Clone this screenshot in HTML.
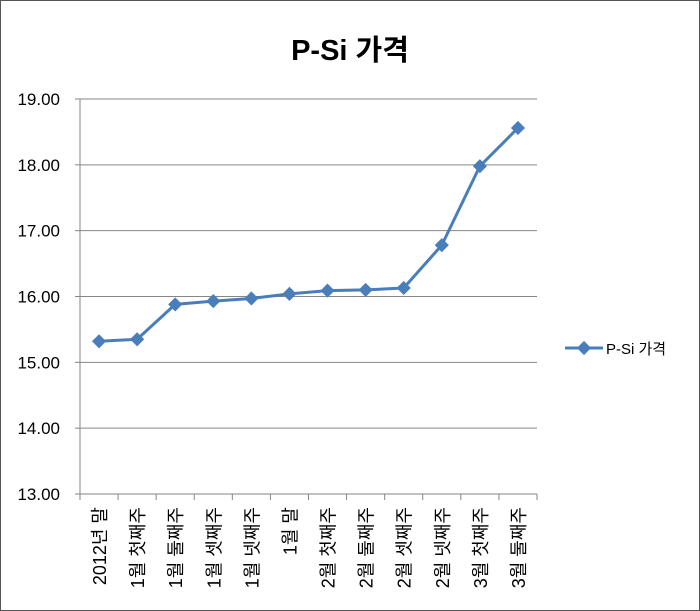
<!DOCTYPE html>
<html><head><meta charset="utf-8"><style>
body{margin:0;background:#fff;}
svg{display:block;font-family:"Liberation Sans","Noto Sans CJK KR",sans-serif;}
</style></head><body>
<svg id="chart" width="700" height="611">
<rect x="0.5" y="0.5" width="699" height="610" fill="#fff" stroke="#555"/>
<text x="350" y="60" text-anchor="middle" font-size="29" font-weight="bold" fill="#000">P-Si 가격</text>
<g id="grid"></g><g id="axes"></g><g id="series"></g>
<g>
<line x1="565" y1="348" x2="603" y2="348" stroke="#4a7ebb" stroke-width="3"/>
<rect x="579" y="343" width="10" height="10" fill="#4a7ebb" transform="rotate(45 584 348)"/>
<text x="606" y="354" font-size="15" fill="#000">P-Si 가격</text>
</g>
</svg>
<script>
const categories=["2012년 말","1월 첫째주","1월 둘째주","1월 셋째주","1월 넷째주","1월 말","2월 첫째주","2월 둘째주","2월 셋째주","2월 넷째주","3월 첫째주","3월 둘째주"];
const values=[15.32,15.35,15.88,15.93,15.97,16.04,16.09,16.10,16.13,16.78,17.98,18.56];
const yTicks=[13,14,15,16,17,18,19];
const X0=80,X1=537,Y0=494,Y1=99,YMIN=13,YMAX=19;
const step=(X1-X0)/categories.length;
const xs=i=>X0+step*(i+0.5);
const ys=v=>Y0-(v-YMIN)/(YMAX-YMIN)*(Y0-Y1);
const NS="http://www.w3.org/2000/svg";
function mk(t,a,p){const e=document.createElementNS(NS,t);for(const k in a)e.setAttribute(k,a[k]);p.appendChild(e);return e;}
const grid=document.getElementById('grid'),axes=document.getElementById('axes'),series=document.getElementById('series');
yTicks.forEach(v=>{
 const y=ys(v);
 if(v!==YMIN){const g=mk('line',{x1:X0,x2:X1,y1:y,y2:y,stroke:'#868686','stroke-width':1},grid);
 
 }
 const tk=mk('line',{x1:X0-5,x2:X0,y1:y,y2:y,stroke:'#868686'},axes);
 
 
 const t=mk('text',{x:X0-20,y:y+6,'text-anchor':'end','font-size':17,fill:'#000'},axes);
 t.textContent=v.toFixed(2);
 
 
});
const ya=mk('line',{x1:X0,x2:X0,y1:Y1,y2:Y0,stroke:'#868686'},axes);


const xa=mk('line',{x1:X0,x2:X1,y1:Y0,y2:Y0,stroke:'#868686'},axes);


for(let i=0;i<=categories.length;i++){const x=X0+step*i;
 const tk=mk('line',{x1:x,x2:x,y1:Y0,y2:Y0+6,stroke:'#868686'},axes);
 
 }
categories.forEach((c,i)=>{const x=xs(i)+7,y=507;
 const t=mk('text',{x:x,y:y,'text-anchor':'end','font-size':18,fill:'#000',transform:`rotate(-90 ${x} ${y})`},axes);
 t.textContent=c;
 
 });
const pl=mk('polyline',{points:values.map((v,i)=>xs(i)+','+ys(v)).join(' '),fill:'none',stroke:'#4a7ebb','stroke-width':3,'stroke-linejoin':'round'},series);


values.forEach((v,i)=>{const x=xs(i),y=ys(v);
 const m=mk('rect',{x:x-5,y:y-5,width:10,height:10,fill:'#4a7ebb',transform:`rotate(45 ${x} ${y})`},series);
 
 });
</script>
</body></html>
